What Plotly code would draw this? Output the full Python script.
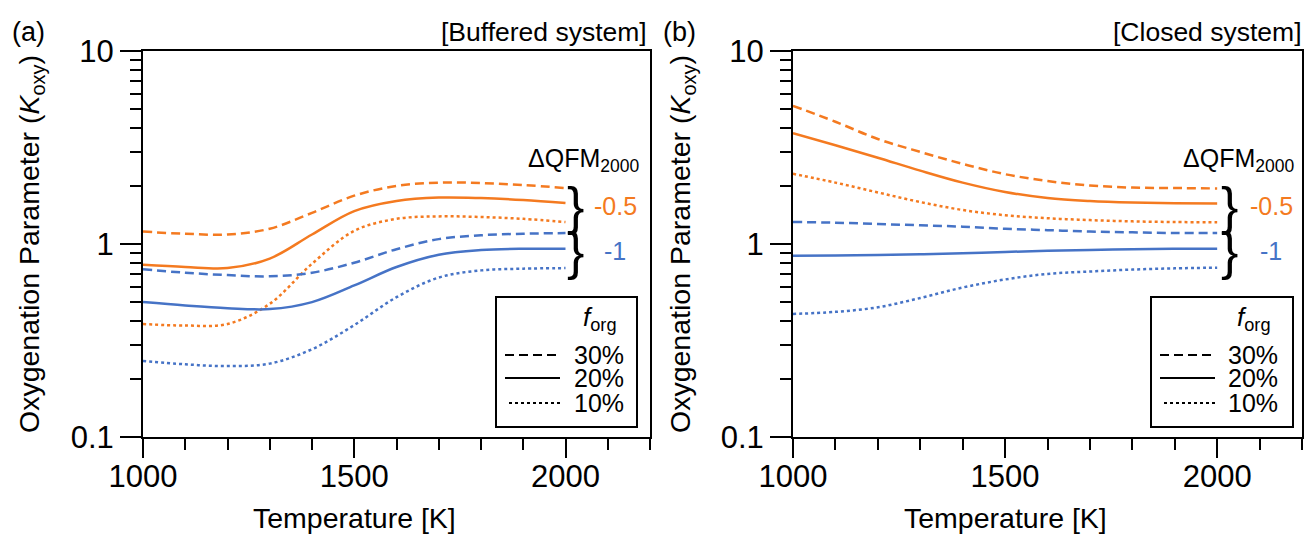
import plotly.graph_objects as go

# ---------------- data ----------------
temperature = [1000, 1100, 1200, 1300, 1400, 1500, 1600, 1700, 1800, 1900, 2000]

# (a) Buffered system
buf_m05_30 = [1.16, 1.13, 1.12, 1.20, 1.45, 1.78, 2.00, 2.08, 2.07, 2.02, 1.95]
buf_m05_20 = [0.78, 0.76, 0.75, 0.84, 1.12, 1.48, 1.67, 1.74, 1.73, 1.69, 1.63]
buf_m05_10 = [0.385, 0.378, 0.385, 0.49, 0.79, 1.17, 1.35, 1.39, 1.38, 1.35, 1.30]
buf_m1_30 = [0.74, 0.71, 0.69, 0.68, 0.71, 0.80, 0.94, 1.06, 1.11, 1.13, 1.14]
buf_m1_20 = [0.50, 0.48, 0.465, 0.46, 0.50, 0.61, 0.76, 0.88, 0.93, 0.945, 0.945]
buf_m1_10 = [0.248, 0.238, 0.233, 0.240, 0.285, 0.38, 0.53, 0.67, 0.73, 0.745, 0.75]

# (b) Closed system
clo_m05_30 = [5.2, 4.3, 3.5, 3.0, 2.6, 2.3, 2.12, 2.01, 1.96, 1.95, 1.94]
clo_m05_20 = [3.75, 3.25, 2.80, 2.40, 2.08, 1.86, 1.73, 1.67, 1.64, 1.625, 1.62]
clo_m05_10 = [2.31, 2.08, 1.85, 1.65, 1.50, 1.41, 1.36, 1.33, 1.31, 1.30, 1.295]
clo_m1_30 = [1.30, 1.29, 1.27, 1.25, 1.23, 1.20, 1.18, 1.16, 1.15, 1.14, 1.14]
clo_m1_20 = [0.87, 0.872, 0.877, 0.885, 0.895, 0.91, 0.922, 0.932, 0.94, 0.944, 0.946]
clo_m1_10 = [0.434, 0.445, 0.47, 0.525, 0.595, 0.655, 0.70, 0.72, 0.737, 0.748, 0.754]

forg_labels = ["30%", "20%", "10%"]
dqfm_labels = ["-0.5", "-1"]
x_tickvals = [1000, 1500, 2000]
x_minor = [1100, 1200, 1300, 1400, 1600, 1700, 1800, 1900, 2100, 2200]
y_tickvals = [0.1, 1, 10]
y_ticktext = ["0.1", "1", "10"]
y_minor = [0.2, 0.3, 0.4, 0.5, 0.6, 0.7, 0.8, 0.9, 2, 3, 4, 5, 6, 7, 8, 9]

# ---------------- style ----------------
W, H = 1306, 535
ORANGE = "#F47A20"
BLUE = "#4673C6"
FONT = "Liberation Sans, Arial, Helvetica, sans-serif"
DASHES = {"30%": "9px,5px", "20%": "solid", "10%": "3px,3px"}
Y_TITLE = "Oxygenation Parameter (<i>K</i><sub>oxy</sub>)"


def px(x):
    return x / W


def py(y):
    return 1 - y / H


fig = go.Figure()

panels = [
    ("x", "y", [(buf_m05_30, ORANGE, "30%"), (buf_m05_20, ORANGE, "20%"), (buf_m05_10, ORANGE, "10%"),
                (buf_m1_30, BLUE, "30%"), (buf_m1_20, BLUE, "20%"), (buf_m1_10, BLUE, "10%")]),
    ("x2", "y2", [(clo_m05_30, ORANGE, "30%"), (clo_m05_20, ORANGE, "20%"), (clo_m05_10, ORANGE, "10%"),
                  (clo_m1_30, BLUE, "30%"), (clo_m1_20, BLUE, "20%"), (clo_m1_10, BLUE, "10%")]),
]
for xa, ya, series in panels:
    for vals, col, f in series:
        fig.add_trace(go.Scatter(
            x=temperature, y=vals, mode="lines", xaxis=xa, yaxis=ya, showlegend=False,
            line=dict(color=col, width=2.5, dash=DASHES[f], shape="spline", smoothing=1.0),
            hoverinfo="skip"))

axis_common = dict(showline=True, linecolor="black", linewidth=2, mirror=True, automargin=False,
                   showgrid=False, zeroline=False, ticks="outside", tickcolor="black",
                   tickwidth=2, tickfont=dict(family=FONT, size=31, color="black"))

xaxis = dict(axis_common, range=[1000, 2200], tickvals=x_tickvals, ticklen=19, ticklabelstandoff=-8,
             minor=dict(tickvals=x_minor, ticklen=11, tickwidth=2, ticks="outside", tickcolor="black",
                        showgrid=False))
yaxis = dict(axis_common, type="log", range=[-1, 1], tickvals=y_tickvals, ticktext=y_ticktext, ticklen=21,
             minor=dict(tickvals=y_minor, ticklen=11, tickwidth=2, ticks="outside", tickcolor="black",
                        showgrid=False))

ydom = [py(437), py(51)]
fig.update_layout(
    template="none",
    width=W, height=H, margin=dict(l=0, r=0, t=0, b=0, autoexpand=False),
    paper_bgcolor="white", plot_bgcolor="white",
    font=dict(family=FONT, color="black"),
    xaxis=dict(xaxis, domain=[px(143), px(650)], anchor="y"),
    yaxis=dict(yaxis, domain=ydom, anchor="x"),
    xaxis2=dict(xaxis, domain=[px(793), px(1302)], anchor="y2"),
    yaxis2=dict(yaxis, domain=ydom, anchor="x2"),
    showlegend=False,
)

annotations = []
shapes = []


def txt(x, y, text, size, color="black", xanchor="center", yanchor="middle", **kw):
    annotations.append(dict(x=px(x), y=py(y), xref="paper", yref="paper", text=text, showarrow=False,
                            xanchor=xanchor, yanchor=yanchor,
                            font=dict(family=FONT, size=size, color=color), **kw))


# panel parts
for off, tag, title, xref in [(0, "(a)", "[Buffered system]", "x"), (651, "(b)", "[Closed system]", "x2")]:
    txt(28 + off, 32, tag, 27)
    txt(649 if off == 0 else 1304, 32, title, 26.5, xanchor="right")
    # x-axis title centred under 1500 K
    annotations.append(dict(x=1500, y=py(518), xref=xref, yref="paper", text="Temperature [K]",
                            showarrow=False, xanchor="center", yanchor="middle",
                            font=dict(family=FONT, size=28.5, color="black")))
    # y-axis title
    txt(31 + off, 244, Y_TITLE, 28.5, textangle=-90)

# ΔQFM labels and braces
for dx, brace_x, lab_x05, lab_x1 in [(0, 575, 615, 615), (655, 1229, 1271, 1271)]:
    txt(641 if dx == 0 else 1296, 160, "ΔQFM<sub>2000</sub>", 25, xanchor="right")
    txt(brace_x, 206, "}", 52)
    txt(brace_x, 251, "}", 52)
    txt(lab_x05, 206, dqfm_labels[0], 25, color=ORANGE)
    txt(lab_x1, 251, dqfm_labels[1], 25, color=BLUE)

# f_org legend boxes
for x0, x1, lx0, lx1, tx, fx in [(496, 637, 505, 560, 572, 600), (1151, 1293, 1160, 1215, 1226, 1254)]:
    shapes.append(dict(type="rect", xref="paper", yref="paper", x0=px(x0), x1=px(x1), y0=py(427), y1=py(297),
                       line=dict(color="black", width=2), fillcolor="white", layer="above"))
    txt(fx, 318, "<i>f</i><sub>org</sub>", 26)
    for lab, ly in zip(forg_labels, [355, 378, 403]):
        d = DASHES[lab]
        shapes.append(dict(type="line", xref="paper", yref="paper", x0=px(lx0 + (4 if lab == "10%" else 0)),
                           x1=px(lx1), y0=py(ly), y1=py(ly),
                           line=dict(color="black", width=2, dash=d), layer="above"))
        txt(tx, ly, lab, 25, xanchor="left")

fig.update_layout(annotations=annotations, shapes=shapes)
fig.write_html("out.html", config={"displayModeBar": False},
               post_script="document.body.style.margin='0';")
